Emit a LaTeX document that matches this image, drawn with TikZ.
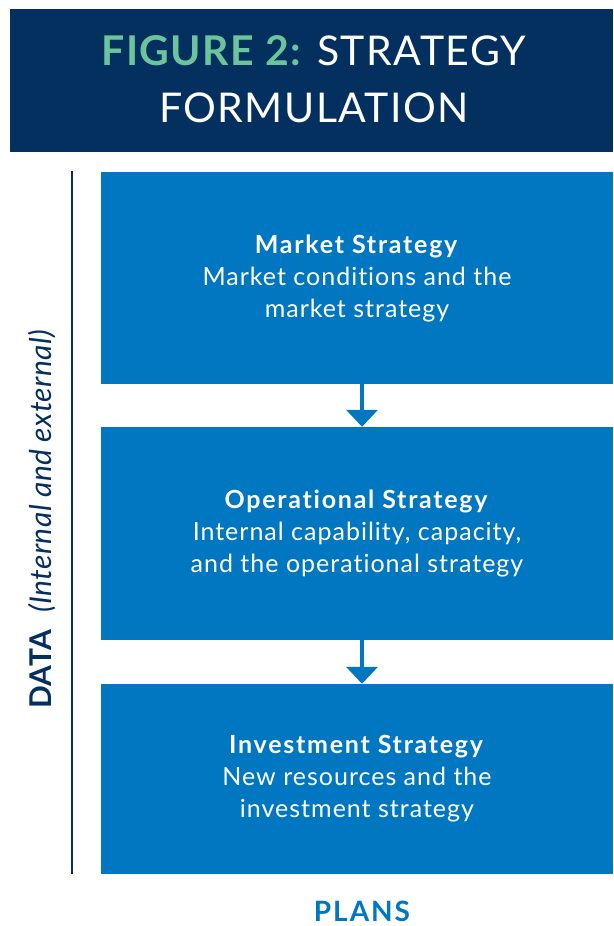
\documentclass[tikz,border=0pt]{standalone}
\usepackage{fontspec}
\setmainfont{Lato}[Ligatures=NoCommon,LetterSpace=4,BoldFeatures={LetterSpace=7}]
\newfontfamily\titlefont{Lato}[Ligatures=NoCommon,LetterSpace=3.5]
\newfontfamily\datafont{Lato}[Ligatures=NoCommon,LetterSpace=1.5]
\usetikzlibrary{arrows.meta}
\definecolor{navy}{HTML}{03305F}
\definecolor{boxblue}{HTML}{0077C0}
\definecolor{figgreen}{HTML}{6CC49C}
\begin{document}
\begin{tikzpicture}[x=1pt,y=-1pt,
    stagebox/.style={fill=boxblue,minimum width=512pt,text=white,align=center,
      font=\fontsize{25}{32}\selectfont,inner sep=0pt},
    flow/.style={draw=boxblue,line width=4pt,-{Triangle[width=31pt,length=17pt]}}]
  \useasboundingbox (0,0) rectangle (613,926);
  \node[fill=navy,minimum width=603pt,minimum height=143pt,inner sep=0pt] (head) at (311.5,80.5) {};
  \node[text=white,align=center,font=\titlefont\fontsize{41}{57}\selectfont] (title) at (314,79)
    {\textcolor{figgreen}{\bfseries FIGURE 2:} STRATEGY\\FORMULATION};
  \node[stagebox,minimum height=212pt] (market) at (357,278)
    {\textbf{Market Strategy}\\Market conditions and the\\market strategy};
  \node[stagebox,minimum height=213pt] (oper) at (357,533.5)
    {\textbf{Operational Strategy}\\Internal capability, capacity,\\and the operational strategy};
  \node[stagebox,minimum height=190pt] (invest) at (357,779)
    {\textbf{Investment Strategy}\\New resources and the\\investment strategy};
  \draw[flow] ([xshift=5pt]market.south) -- ([xshift=5pt]oper.north);
  \draw[flow] ([xshift=5pt]oper.south) -- ([xshift=5pt]invest.north);
  % data rule and label
  \coordinate (top) at (72,171);
  \coordinate (bot) at (72,874);
  \draw[navy,line width=2pt] (top) -- (bot);
  \node[rotate=90,text=navy,font=\datafont\fontsize{30}{34}\selectfont] (data) at (42,519)
    {\textbf{DATA}\ \ \textit{(Internal and external)}};
  \node[text=boxblue,font=\fontsize{28}{30}\bfseries\selectfont] (plans) at (362,911) {PLANS};
\end{tikzpicture}
\end{document}
